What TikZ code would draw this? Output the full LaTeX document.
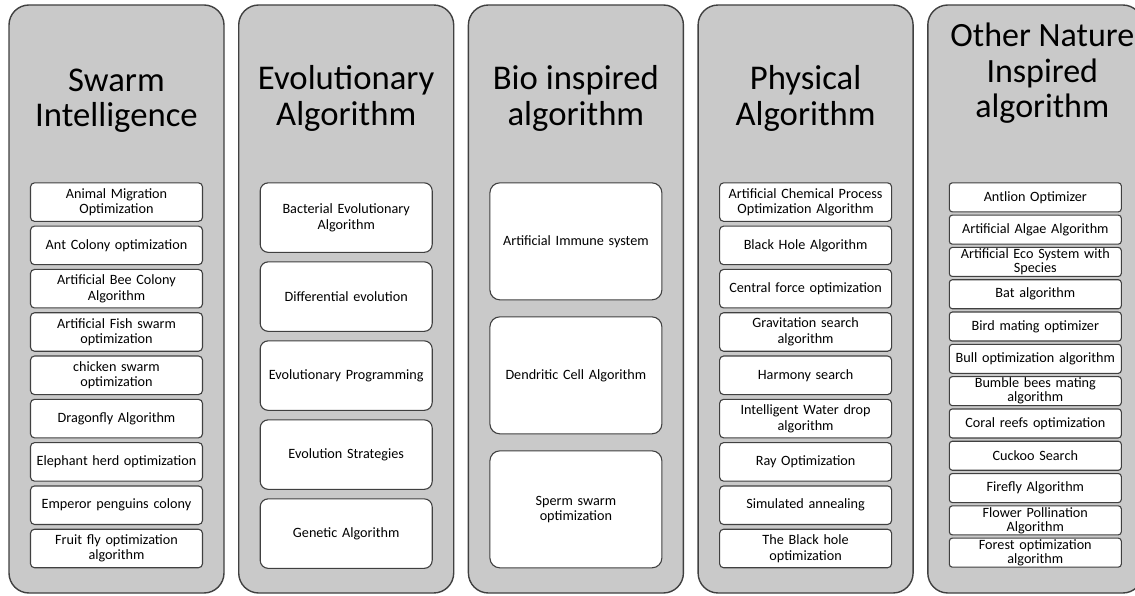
\documentclass[tikz,border=0pt]{standalone}
\usepackage{fontspec}
\setmainfont{Carlito}
\usetikzlibrary{positioning}
\definecolor{panelgray}{RGB}{201,201,201}
\definecolor{linegray}{RGB}{64,64,64}

\begin{document}
\begin{tikzpicture}[%
	group node/.style={
		rectangle,
		rounded corners=20pt,
		fill=panelgray,
		draw=linegray,
		line width=1.4pt,
		minimum width=215pt,
		minimum height=588pt,
		inner sep=0pt
	},
	title node/.style={
		inner sep=0pt,
		align=center,
		font=\fontsize{34.7}{35.5}\selectfont
	},
	small node/.style={
		rectangle,
		rounded corners=4pt,
		fill=white,
		draw=linegray,
		line width=1.1pt,
		minimum width=172pt,
		minimum height=38.5pt,
		inner sep=0pt,
		text width=168pt,
		align=center,
		font=\fontsize{14.2}{15.5}\selectfont
	},
	mid node/.style={
		small node,
		rounded corners=8pt,
		minimum height=69.5pt
	},
	large node/.style={
		small node,
		rounded corners=10pt,
		minimum height=117pt
	},
	tiny node/.style={
		small node,
		rounded corners=3pt,
		minimum height=29pt,
		font=\fontsize{14.2}{14}\selectfont
	},
]
	\useasboundingbox (0,0) rectangle (1135pt,595pt);
	% the five groups
	\node[group node] (swarm) at (116.5pt,296pt) {};
	\node[group node] (evo) [right = 13.3pt of swarm] {};
	\node[group node] (bio) [right = 13.3pt of evo] {};
	\node[group node] (phys) [right = 13.3pt of bio] {};
	\node[group node] (other) [right = 13.3pt of phys] {};
	% titles
	\node[title node] (t1) [below = 64pt of swarm.north] {Swarm\\Intelligence};
	\node[title node] (t2) [below = 61pt of evo.north] {Evolutionary\\Algorithm};
	\node[title node] (t3) [below = 61pt of bio.north] {Bio inspired\\algorithm};
	\node[title node] (t4) [below = 61pt of phys.north] {Physical\\Algorithm};
	\node[title node,font=\fontsize{34}{35.5}\selectfont] (t5) [below = 18.5pt of other.north, xshift=7pt] {Other Nature\\Inspired\\algorithm};
	% swarm intelligence
	\node[small node] (s1) [below = 178pt of swarm.north] {Animal Migration\\Optimization};
	\node[small node] (s2) [below = 3.7pt of s1] {Ant Colony optimization};
	\node[small node] (s3) [below = 3.7pt of s2] {Artificial Bee Colony\\Algorithm};
	\node[small node] (s4) [below = 3.7pt of s3] {Artificial Fish swarm\\optimization};
	\node[small node] (s5) [below = 3.7pt of s4] {chicken swarm\\optimization};
	\node[small node] (s6) [below = 3.7pt of s5] {Dragonfly Algorithm};
	\node[small node] (s7) [below = 3.7pt of s6] {Elephant herd optimization};
	\node[small node] (s8) [below = 3.7pt of s7] {Emperor penguins colony};
	\node[small node] (s9) [below = 3.7pt of s8] {Fruit fly optimization\\algorithm};
	% evolutionary
	\node[mid node] (e1) [below = 178pt of evo.north] {Bacterial Evolutionary\\Algorithm};
	\node[mid node] (e2) [below = 8.4pt of e1] {Differential evolution};
	\node[mid node] (e3) [below = 8.4pt of e2] {Evolutionary Programming};
	\node[mid node] (e4) [below = 8.4pt of e3] {Evolution Strategies};
	\node[mid node] (e5) [below = 8.4pt of e4] {Genetic Algorithm};
	% bio inspired
	\node[large node] (b1) [below = 178pt of bio.north] {Artificial Immune system};
	\node[large node] (b2) [below = 15.9pt of b1] {Dendritic Cell Algorithm};
	\node[large node] (b3) [below = 15.9pt of b2] {Sperm swarm\\optimization};
	% physical
	\node[small node] (p1) [below = 178pt of phys.north] {Artificial Chemical Process\\Optimization Algorithm};
	\node[small node] (p2) [below = 3.7pt of p1] {Black Hole Algorithm};
	\node[small node] (p3) [below = 3.7pt of p2] {Central force optimization};
	\node[small node] (p4) [below = 3.7pt of p3] {Gravitation search\\algorithm};
	\node[small node] (p5) [below = 3.7pt of p4] {Harmony search};
	\node[small node] (p6) [below = 3.7pt of p5] {Intelligent Water drop\\algorithm};
	\node[small node] (p7) [below = 3.7pt of p6] {Ray Optimization};
	\node[small node] (p8) [below = 3.7pt of p7] {Simulated annealing};
	\node[small node] (p9) [below = 3.7pt of p8] {The Black hole\\optimization};
	% other nature inspired
	\node[tiny node] (o1) [below = 178pt of other.north] {Antlion Optimizer};
	\node[tiny node] (o2) [below = 2.2pt of o1] {Artificial Algae Algorithm};
	\node[tiny node] (o3) [below = 2.2pt of o2] {Artificial Eco System with\\Species};
	\node[tiny node] (o4) [below = 2.2pt of o3] {Bat algorithm};
	\node[tiny node] (o5) [below = 2.2pt of o4] {Bird mating optimizer};
	\node[tiny node] (o6) [below = 2.2pt of o5] {Bull optimization algorithm};
	\node[tiny node] (o7) [below = 2.2pt of o6] {Bumble bees mating\\algorithm};
	\node[tiny node] (o8) [below = 2.2pt of o7] {Coral reefs optimization};
	\node[tiny node] (o9) [below = 2.2pt of o8] {Cuckoo Search};
	\node[tiny node] (o10) [below = 2.2pt of o9] {Firefly Algorithm};
	\node[tiny node] (o11) [below = 2.2pt of o10] {Flower Pollination\\Algorithm};
	\node[tiny node] (o12) [below = 2.2pt of o11] {Forest optimization\\algorithm};
\end{tikzpicture}
\end{document}
